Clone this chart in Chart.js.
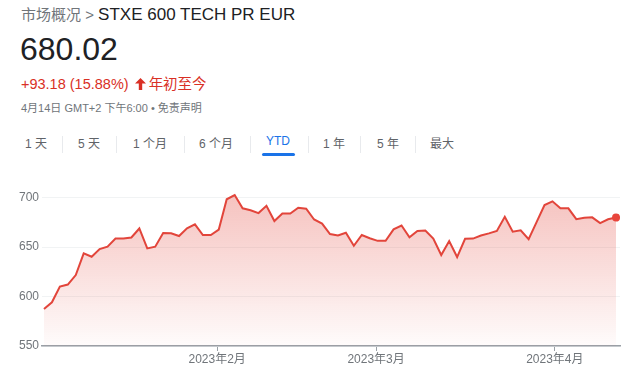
<!DOCTYPE html>
<html lang="zh-CN">
<head>
    <meta charset="UTF-8" />
    <title>STXE 600 TECH PR EUR - YTD</title>
    <script src="https://cdn.jsdelivr.net/npm/chart.js"></script>
    <style>
        body { margin: 0; width: 640px; height: 373px; overflow: hidden; background: #fff;
               font-family: Arial, "Liberation Sans", "Noto Sans CJK SC", sans-serif; position: relative; }
        .abs { position: absolute; white-space: nowrap; }
        #crumb { left: 21px; top: 3px; font-size: 17px; color: #202124; }
        #crumb .muted { color: #70757a; font-size: 15px; }
        #price { left: 20px; top: 31px; font-size: 32px; color: #202124; }
        #change { left: 21px; top: 72px; font-size: 14.5px; color: #d93025; }
        #change svg { vertical-align: -1px; margin: 0 3px 0 6px; }
        #stamp { left: 21px; top: 99px; font-size: 11px; color: #70757a; }
        .tab { top: 134px; font-size: 12px; color: #5f6368; }
        .tab.on { color: #1a73e8; }
        .sep { top: 136px; width: 1px; height: 17px; background: #e8eaed; }
        #bar { left: 262px; top: 153px; width: 33px; height: 3px; border-radius: 2px; background: #1a73e8; }
        #box { position: absolute; left: 0; top: 160px; width: 640px; height: 213px; }
    </style>
</head>
<body>
    <div id="crumb" class="abs"><span class="muted">市场概况 &gt; </span>STXE 600 TECH PR EUR</div>
    <div id="price" class="abs">680.02</div>
    <div id="change" class="abs">+93.18 (15.88%)<svg width="11" height="12" viewBox="0 0 11 12"><path d="M5.5 0 L11 5.5 L7.2 5.5 L7.2 12 L3.8 12 L3.8 5.5 L0 5.5 Z" fill="#d93025"/></svg>年初至今</div>
    <div id="stamp" class="abs">4月14日 GMT+2 下午6:00 • 免责声明</div>
    <div id="tabs"></div>
    <div id="bar" class="abs"></div>
    <div id="box"><canvas id="chart"></canvas></div>

    <script>
        const ranges = ["1 天", "5 天", "1 个月", "6 个月", "YTD", "1 年", "5 年", "最大"];
        const rangeX = [25, 78, 133, 199, 266, 323, 377, 430];
        const sepX = [62, 116, 184, 250, 308, 360, 415];

        // daily closes, 2 Jan - 14 Apr 2023 (trading days)
        const closes = [
            587.4, 594.2, 610.2, 612.2, 621.8, 643.8, 640.3, 648.1, 650.5, 658.7,
            658.7, 659.8, 668.9, 648.8, 650.5, 664.3, 664.0, 661.3, 669.0, 673.1,
            662.3, 662.3, 667.8, 698.5, 702.7, 689.3, 687.4, 684.5, 691.8, 676.4,
            684.0, 684.0, 689.9, 688.9, 678.0, 673.9, 663.3, 661.8, 664.6, 651.4,
            662.3, 659.0, 656.4, 656.4, 668.0, 671.9, 659.9, 666.3, 666.8, 658.7,
            642.1, 656.2, 640.0, 658.5, 658.7, 661.8, 664.0, 666.5, 680.8, 665.6,
            667.0, 658.0, 675.4, 692.6, 696.4, 689.3, 689.3, 678.3, 679.8, 680.2,
            674.4, 678.2, 680.02
        ];
        const monthTicks = [21.8, 41.8, 64.3];
        const monthLabels = ["2023年2月", "2023年3月", "2023年4月"];
        const yTicks = [550, 600, 650, 700];

        const tabs = document.getElementById("tabs");
        ranges.forEach((r, i) => {
            const el = document.createElement("div");
            el.className = "abs tab" + (r === "YTD" ? " on" : "");
            el.style.left = rangeX[i] + "px";
            el.textContent = r;
            tabs.appendChild(el);
        });
        sepX.forEach(x => {
            const el = document.createElement("div");
            el.className = "abs sep";
            el.style.left = x + "px";
            tabs.appendChild(el);
        });

        const points = closes.map((v, i) => ({ x: i, y: v }));
        const last = closes.length - 1;

        new Chart(document.getElementById("chart"), {
            type: "line",
            data: {
                datasets: [{
                    data: points,
                    borderColor: "#e2453b",
                    borderWidth: 2,
                    tension: 0,
                    pointRadius: points.map((p, i) => i === last ? 4 : 0),
                    pointBackgroundColor: "#e8453c",
                    pointBorderWidth: 0,
                    fill: "start",
                    backgroundColor: (ctx) => {
                        const area = ctx.chart.chartArea;
                        if (!area) return "rgba(226,69,59,0.2)";
                        const g = ctx.chart.ctx.createLinearGradient(0, area.top, 0, area.bottom);
                        g.addColorStop(0, "rgba(226,69,59,0.36)");
                        g.addColorStop(1, "rgba(226,69,59,0.02)");
                        return g;
                    }
                }]
            },
            options: {
                responsive: true,
                maintainAspectRatio: false,
                animation: false,
                layout: { padding: { top: 18, right: 20, left: 0, bottom: 0 } },
                plugins: { legend: { display: false }, tooltip: { enabled: false } },
                scales: {
                    x: {
                        type: "linear",
                        min: -0.25,
                        max: 72.5,
                        afterBuildTicks: (axis) => { axis.ticks = monthTicks.map(v => ({ value: v })); },
                        afterFit: (axis) => { axis.height = 27; },
                        grid: { drawOnChartArea: false, drawTicks: true, tickLength: 5, color: "#9aa0a6" },
                        border: { color: "#9aa0a6", width: 1.5 },
                        ticks: {
                            padding: 1,
                            maxRotation: 0,
                            color: "#70757a",
                            font: { size: 12, family: "Arial, 'Liberation Sans', 'Noto Sans CJK SC'" },
                            callback: (v, i) => monthLabels[i]
                        }
                    },
                    y: {
                        min: 550,
                        max: 720,
                        afterBuildTicks: (axis) => { axis.ticks = yTicks.map(v => ({ value: v })); },
                        afterFit: (axis) => { axis.width = 42; },
                        grid: { drawTicks: false, color: "#f1f3f4" },
                        border: { display: false },
                        ticks: {
                            padding: 3,
                            color: "#70757a",
                            font: { size: 12, family: "Arial, 'Liberation Sans'" }
                        }
                    }
                }
            }
        });
    </script>
</body>
</html>
